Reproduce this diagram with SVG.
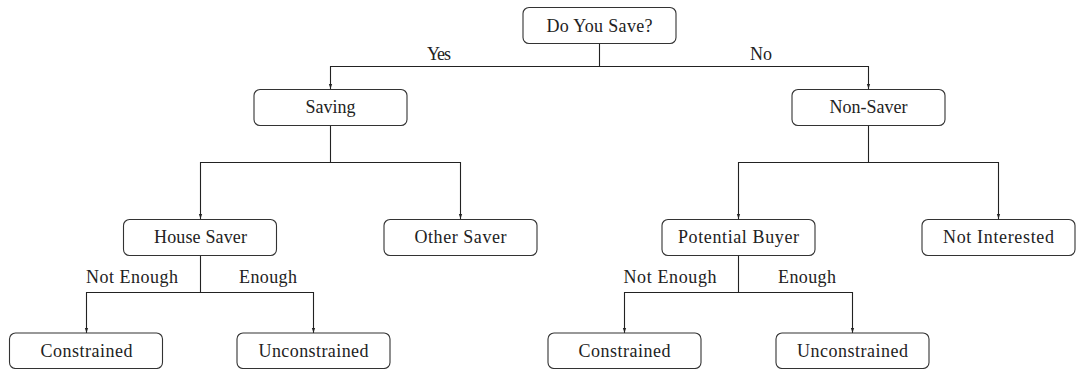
<svg xmlns="http://www.w3.org/2000/svg" width="1079" height="369" viewBox="0 0 1079 369">
<style>
.box{fill:#fff;stroke:#333;stroke-width:1.1}
.t{font-family:"Liberation Serif","DejaVu Serif",serif;font-size:18px;fill:#222;text-anchor:middle}
.e{fill:none;stroke:#222;stroke-width:1.1;marker-end:url(#ah)}
</style>
<defs>
<marker id="ah" markerUnits="userSpaceOnUse" markerWidth="6" markerHeight="6" viewBox="0 0 6 6" refX="5" refY="3" orient="auto">
<path d="M0,1.4 L5,3 L0,4.6 Z" fill="#222"/>
</marker>
</defs>
<rect width="1079" height="369" fill="#fff"/>
<g id="connectors">
<path class="e" d="M599.5 43 V66.5 H330.5 V89"/>
<path class="e" d="M599.5 66.5 H868.5 V89"/>
<path class="e" d="M330.5 125 V162.5 H200.5 V219"/>
<path class="e" d="M330.5 162.5 H460.5 V219"/>
<path class="e" d="M868.5 125 V162.5 H738.5 V219"/>
<path class="e" d="M868.5 162.5 H998.5 V219"/>
<path class="e" d="M200.5 255 V292.5 H86.5 V333"/>
<path class="e" d="M200.5 292.5 H313.5 V333"/>
<path class="e" d="M738.5 255 V292.5 H624.5 V333"/>
<path class="e" d="M738.5 292.5 H852.5 V333"/>
<text class="t" x="439" y="60" textLength="24">Yes</text>
<text class="t" x="761" y="60" textLength="22">No</text>
<text class="t" x="132" y="283" textLength="92">Not Enough</text>
<text class="t" x="268" y="283" textLength="58">Enough</text>
<text class="t" x="670" y="283" textLength="93">Not Enough</text>
<text class="t" x="807" y="283" textLength="58">Enough</text>
</g>
<g id="root"><rect class="box" x="523" y="7.5" width="153" height="36" rx="6"/><text class="t" x="599.5" y="31.5" textLength="106">Do You Save?</text></g>
<g id="saving"><rect class="box" x="254" y="89.5" width="153" height="36" rx="6"/><text class="t" x="330.5" y="113" textLength="50">Saving</text></g>
<g id="nonsaver"><rect class="box" x="792" y="89.5" width="153" height="36" rx="6"/><text class="t" x="868.5" y="113" textLength="78">Non-Saver</text></g>
<g id="housesaver"><rect class="box" x="123.5" y="219.5" width="153" height="36" rx="6"/><text class="t" x="200.5" y="243" textLength="93">House Saver</text></g>
<g id="othersaver"><rect class="box" x="384" y="219.5" width="153" height="36" rx="6"/><text class="t" x="460.5" y="243" textLength="92">Other Saver</text></g>
<g id="potentialbuyer"><rect class="box" x="662" y="219.5" width="153" height="36" rx="6"/><text class="t" x="738.5" y="243" textLength="121">Potential Buyer</text></g>
<g id="notinterested"><rect class="box" x="922" y="219.5" width="153" height="36" rx="6"/><text class="t" x="998.5" y="243" textLength="111">Not Interested</text></g>
<g id="constrained1"><rect class="box" x="9.5" y="333" width="153" height="35.5" rx="6"/><text class="t" x="86.5" y="357" textLength="92">Constrained</text></g>
<g id="unconstrained1"><rect class="box" x="237" y="333" width="153" height="35.5" rx="6"/><text class="t" x="313.5" y="357" textLength="110">Unconstrained</text></g>
<g id="constrained2"><rect class="box" x="548" y="333" width="153" height="35.5" rx="6"/><text class="t" x="624.5" y="357" textLength="92">Constrained</text></g>
<g id="unconstrained2"><rect class="box" x="776" y="333" width="153" height="35.5" rx="6"/><text class="t" x="852.5" y="357" textLength="111">Unconstrained</text></g>
</svg>
